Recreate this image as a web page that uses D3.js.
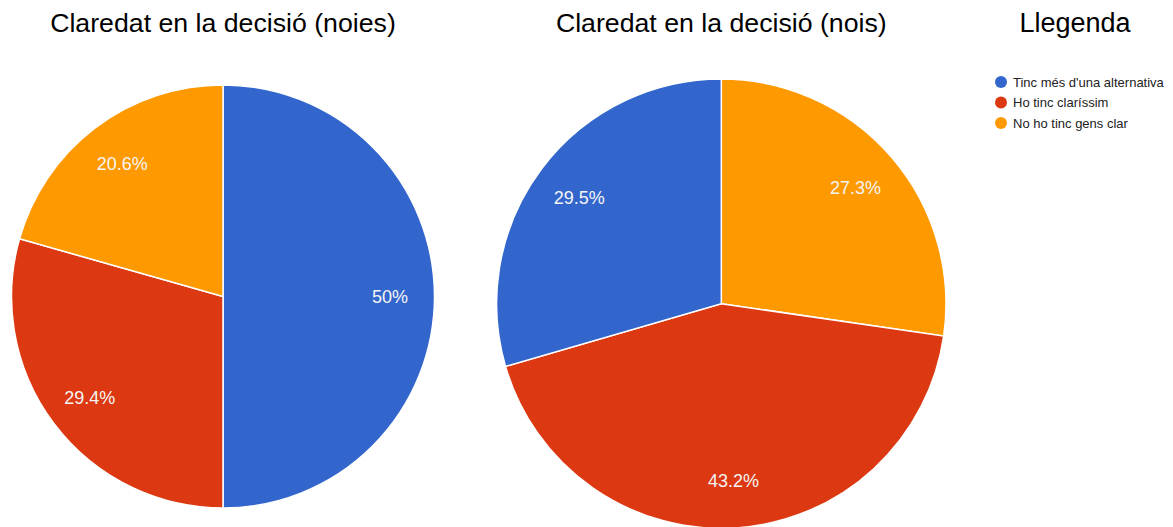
<!DOCTYPE html>
<html>
<head>
<meta charset="utf-8">
<script src="https://cdn.jsdelivr.net/npm/d3@7"></script>
<style>
  body { margin: 0; background: #fff; }
  svg { display: block; font-family: Arial, "Liberation Sans", sans-serif; }
</style>
</head>
<body>
<svg id="chart" width="1173" height="527"></svg>
<script>
// Categories and colours (shared legend)
const categories = ["Tinc més d'una alternativa", "Ho tinc claríssim", "No ho tinc gens clar"];
const colors = ["#3366cc", "#dc3912", "#ff9900"];

// Slice order as drawn, clockwise from 12 o'clock
const girlsOrder = ["Tinc més d'una alternativa", "Ho tinc claríssim", "No ho tinc gens clar"];
const girlsValues = [50, 29.4, 20.6];
const boysOrder = ["No ho tinc gens clar", "Ho tinc claríssim", "Tinc més d'una alternativa"];
const boysValues = [27.3, 43.2, 29.5];

const titles = ["Claredat en la decisió (noies)", "Claredat en la decisió (nois)", "Llegenda"];

const svg = d3.select("#chart");
const color = d3.scaleOrdinal().domain(categories).range(colors);

// Draws one pie chart
function drawPie(cx, cy, r, order, values, title) {
    const data = order.map((c, i) => ({ cat: c, value: values[i] }));
    const pie = d3.pie().sort(null).value(d => d.value);
    const arc = d3.arc().innerRadius(0).outerRadius(r);
    const labelArc = d3.arc().innerRadius(r * 0.79).outerRadius(r * 0.79);

    const g = svg.append("g").attr("transform", `translate(${cx},${cy})`);
    const slices = g.selectAll(".slice")
        .data(pie(data))
        .enter()
        .append("g")
        .attr("class", "slice");

    slices.append("path")
        .attr("d", arc)
        .attr("fill", d => color(d.data.cat))
        .attr("stroke", "#fff")
        .attr("stroke-width", 1.5);

    slices.append("text")
        .attr("transform", d => `translate(${labelArc.centroid(d)})`)
        .attr("text-anchor", "middle")
        .attr("dy", "0.36em")
        .attr("fill", "#f4f4f4")
        .style("font-size", "18px")
        .text(d => d3.format("~")(d.data.value) + "%");

    svg.append("text")
        .attr("x", cx)
        .attr("y", 32)
        .attr("text-anchor", "middle")
        .attr("fill", "#000")
        .style("font-size", "26.7px")
        .text(title);
}

drawPie(223, 296.5, 211.5, girlsOrder, girlsValues, titles[0]);
drawPie(721.3, 303.7, 224.7, boysOrder, boysValues, titles[1]);

// Legend
svg.append("text")
    .attr("x", 1075)
    .attr("y", 32)
    .attr("text-anchor", "middle")
    .style("font-size", "27px")
    .text(titles[2]);

const legend = svg.append("g").attr("transform", "translate(1001,82)");
const items = legend.selectAll(".item")
    .data(categories)
    .enter()
    .append("g")
    .attr("class", "item")
    .attr("transform", (d, i) => `translate(0,${i * 20.5})`);

items.append("circle")
    .attr("r", 6)
    .attr("fill", d => color(d));

items.append("text")
    .attr("x", 12)
    .attr("dy", "0.35em")
    .attr("fill", "#222")
    .style("font-size", "13px")
    .text(d => d);
</script>
</body>
</html>
